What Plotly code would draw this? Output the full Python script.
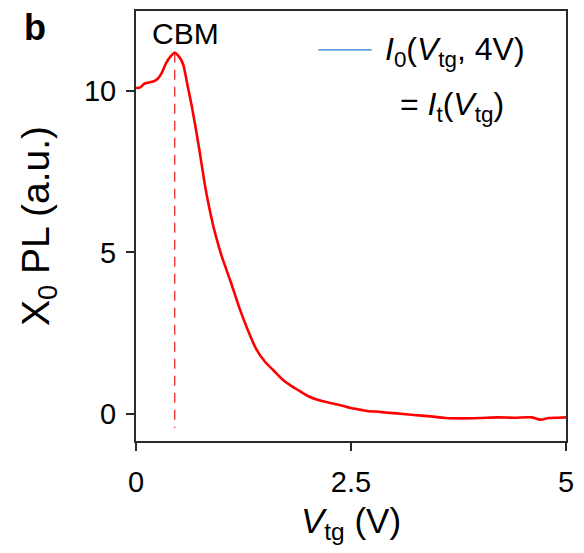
import plotly.graph_objects as go

# Data
v_tg = [0, 0.05, 0.1, 0.15, 0.2, 0.25, 0.3, 0.35, 0.4, 0.45, 0.5, 0.55, 0.6, 0.65, 0.7,
        0.75, 0.8, 0.85, 0.9, 0.95, 1.0, 1.1, 1.2, 1.3, 1.4, 1.5, 1.6, 1.7, 1.8, 1.9,
        2.0, 2.1, 2.2, 2.3, 2.4, 2.5, 2.6, 2.7, 2.8, 2.9, 3.0, 3.2, 3.4, 3.6, 3.8,
        4.0, 4.2, 4.4, 4.6, 4.7, 4.8, 4.9, 5.0]
x0_pl = [10.08, 10.10, 10.22, 10.25, 10.28, 10.36, 10.55, 10.85, 11.05, 11.17, 11.05,
         10.8, 10.15, 9.5, 8.75, 7.95, 7.1, 6.4, 5.8, 5.3, 4.85, 4.1, 3.3, 2.6, 2.0,
         1.62, 1.35, 1.08, 0.88, 0.72, 0.56, 0.45, 0.38, 0.32, 0.26, 0.19, 0.14, 0.09,
         0.08, 0.05, 0.03, -0.02, -0.06, -0.12, -0.13, -0.12, -0.10, -0.11, -0.10,
         -0.17, -0.12, -0.11, -0.10]
cbm_v = 0.45
cbm_line_y = [11.17, -0.43]
x_ticks = [0, 2.5, 5]
x_tick_labels = ["0", "2.5", "5"]
y_ticks = [0, 5, 10]
y_tick_labels = ["0", "5", "10"]

FONT = "Liberation Sans, Arial, Helvetica, sans-serif"
AX = "#2b2b2b"

fig = go.Figure()
fig.add_trace(go.Scatter(x=[cbm_v, cbm_v], y=cbm_line_y, mode="lines",
                         line=dict(color="#e83a3a", width=1.4, dash="10px,7px"),
                         showlegend=False, hoverinfo="skip"))
fig.add_trace(go.Scatter(x=v_tg, y=x0_pl, mode="lines",
                         line=dict(color="#ff0000", width=2.6, shape="spline", smoothing=0.6),
                         showlegend=False, name="I_t(V_tg)"))

# legend drawn manually
fig.add_shape(type="line", xref="x", yref="y", x0=2.12, x1=2.74, y0=11.26, y1=11.26,
              line=dict(color="#1f77d4", width=1.4))
fig.add_annotation(x=2.87, y=11.2, xref="x", yref="y", xanchor="left", yanchor="middle",
                   text="<i>I</i><sub>0</sub>(<i>V</i><sub>tg</sub>, 4V)", showarrow=False,
                   font=dict(size=32, color="black", family=FONT))
fig.add_annotation(x=3.05, y=9.5, xref="x", yref="y", xanchor="left", yanchor="middle",
                   text="= <i>I</i><sub>t</sub>(<i>V</i><sub>tg</sub>)", showarrow=False,
                   font=dict(size=32, color="black", family=FONT))
fig.add_annotation(x=0.58, y=11.75, xref="x", yref="y", xanchor="center", yanchor="middle",
                   text="CBM", showarrow=False, font=dict(size=30, color="black", family=FONT))
fig.add_annotation(x=-0.234, y=0.962, xref="paper", yref="paper", xanchor="center", yanchor="middle",
                   text="<b>b</b>", showarrow=False, font=dict(size=36, color="black", family=FONT))

fig.update_layout(
    width=568, height=537,
    margin=dict(l=128, r=10, t=1, b=104),
    paper_bgcolor="white", plot_bgcolor="white",
    font=dict(family=FONT, color="black"),
    xaxis=dict(range=[0, 5], tickvals=x_ticks, ticktext=x_tick_labels,
               ticks="outside", ticklen=8, tickwidth=2, tickcolor=AX,
               showline=True, linecolor=AX, linewidth=2, mirror=True,
               showgrid=False, zeroline=False, tickfont=dict(size=29),
               ticklabelstandoff=6,
               title=dict(text="<i>V</i><sub>tg</sub> (V)", font=dict(size=35), standoff=12)),
    yaxis=dict(range=[-0.83, 12.46], tickvals=y_ticks, ticktext=y_tick_labels,
               ticks="outside", ticklen=8, tickwidth=2, tickcolor=AX,
               showline=True, linecolor=AX, linewidth=2, mirror=True,
               showgrid=False, zeroline=False, tickfont=dict(size=29),
               ticklabelstandoff=4,
               title=dict(text="X<sub>0</sub> PL (a.u.)", font=dict(size=39), standoff=22)),
)

fig.write_html("out.html")
